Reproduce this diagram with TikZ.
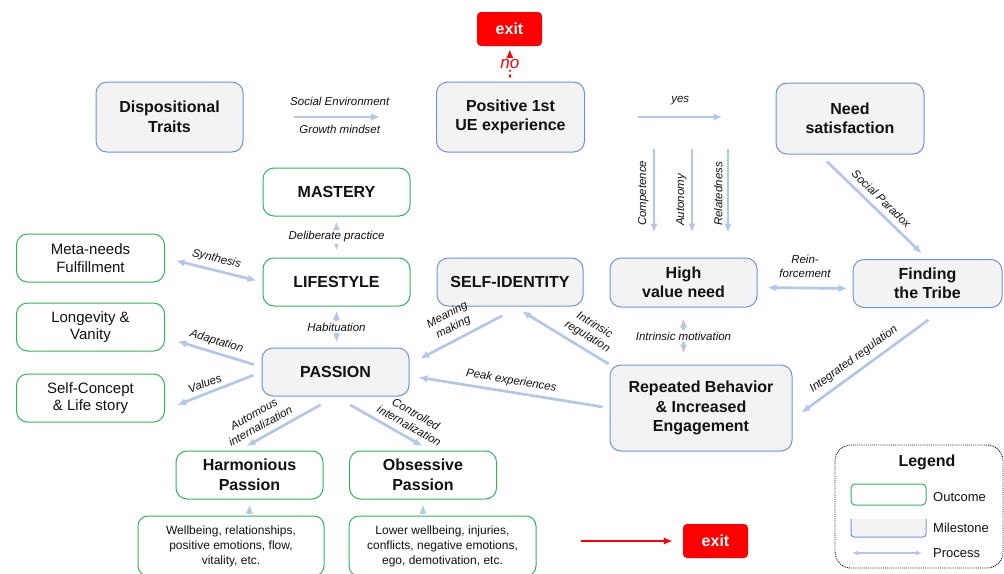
\documentclass[tikz,border=0pt]{standalone}
\usepackage{fontspec}
\setmainfont{Liberation Sans}
\usetikzlibrary{arrows.meta}

\begin{document}
\begin{tikzpicture}[x=1pt,y=-1pt,
  >={Latex[length=9pt,width=7.5pt]},
  box/.style={rounded corners=11pt,line width=1pt,align=center,inner sep=2pt,text=ink,
    font=\fontsize{16}{19.5}\selectfont\bfseries},
  milestone/.style={box,draw=msline,fill=msfill},
  outcome/.style={box,draw=ocline,fill=white},
  tallbox/.style={minimum width=148pt,minimum height=70pt},
  rowbox/.style={minimum width=148pt,minimum height=48pt},
  side/.style={font=\fontsize{15}{17.5}\selectfont},
  note/.style={font=\fontsize{12}{15}\selectfont,rounded corners=10pt},
  exitbox/.style={fill=exitred,rounded corners=4pt,text=white,minimum width=65pt,
    minimum height=34pt,font=\fontsize{16}{19}\selectfont\bfseries},
  proc/.style={draw=procline,line width=2.7pt,->},
  lbl/.style={font=\fontsize{11.5}{13.5}\selectfont\itshape,text=ink,inner sep=1.5pt,align=center},
  exitline/.style={draw=exitred,line width=2pt,->},
  keytext/.style={anchor=west,inner sep=0pt,text=ink,font=\fontsize{13}{15}\selectfont}
]
\definecolor{ink}{HTML}{111111}
\definecolor{msfill}{HTML}{F3F3F3}
\definecolor{msline}{HTML}{6D93DB}
\definecolor{ocline}{HTML}{33B35E}
\definecolor{procline}{HTML}{B4C7E7}
\definecolor{exitred}{HTML}{FF0000}
\useasboundingbox (0,0) rectangle (1004,573);

% top row
\node[milestone,tallbox,minimum width=147pt] (disp) at (169.5,117) {Dispositional\\Traits};
\node[milestone,tallbox] (first) at (510.5,117) {Positive 1st\\UE experience};
\node[milestone,tallbox,minimum height=71pt] (need) at (850,118.5) {Need\\satisfaction};
\node[exitbox] (quit) at (509.5,29) {exit};

% outcomes on the left
\node[outcome,rowbox,side] (meta) at (90.5,258) {Meta-needs\\Fulfillment};
\node[outcome,rowbox,side] (vanity) at (90.5,327) {Longevity \&\\Vanity};
\node[outcome,rowbox,side] (story) at (90.5,398) {Self-Concept\\\& Life story};

% middle column
\node[outcome,rowbox,minimum width=147pt] (mastery) at (336.5,192) {MASTERY};
\node[outcome,rowbox,minimum width=147pt] (lifestyle) at (336.5,282) {LIFESTYLE};
\node[milestone,rowbox,minimum width=147pt] (passion) at (335.5,372) {PASSION};
\node[milestone,rowbox,minimum width=146pt] (identity) at (510,282) {SELF-IDENTITY};

% right side
\node[milestone,rowbox,minimum width=147pt,minimum height=49pt] (highneed) at (683.5,282.5) {High\\value need};
\node[milestone,rowbox,minimum width=149pt] (tribe) at (927.5,283.5) {Finding\\the Tribe};
\node[milestone,minimum width=182pt,minimum height=86pt] (engage) at (701,408) {Repeated Behavior\\\& Increased\\Engagement};

% the two kinds of passion
\node[outcome,minimum width=147pt,minimum height=48pt] (harmonious) at (249.5,475) {Harmonious\\Passion};
\node[outcome,minimum width=147pt,minimum height=48pt] (obsessive) at (423,475) {Obsessive\\Passion};
\node[outcome,note,minimum width=186pt,minimum height=60pt] (goodout) at (231,546) {Wellbeing, relationships,\\positive emotions, flow,\\vitality, etc.};
\node[outcome,note,minimum width=187pt,minimum height=60pt] (badout) at (442.5,546) {Lower wellbeing, injuries,\\conflicts, negative emotions,\\ego, demotivation, etc.};

\node[exitbox] (quitb) at (715.5,541) {exit};
\coordinate (drop) at (581,541);

% processes
\draw[proc,shorten <=50pt,shorten >=56pt] (disp) -- (first)
  node[lbl,midway,above=9pt]{Social Environment}
  node[lbl,midway,below=5pt]{Growth mindset};
\draw[exitline,dashed,line width=1.8pt,shorten <=4pt,shorten >=3pt] (first) -- (quit)
  node[lbl,midway,fill=white,text=exitred,inner sep=1pt,font=\fontsize{17}{20}\selectfont\itshape]{no};
\draw[proc,shorten <=53pt,shorten >=53pt] (first) -- (first.east -| need.west) node[lbl,midway,above=9pt]{yes};

\coordinate (cmp) at (654,149);
\coordinate (aut) at (692,149);
\coordinate (rel) at (728,149);
\draw[proc,shorten >=25pt] (cmp) -- (cmp |- highneed.north)
  node[lbl,pos=0.76,rotate=90,anchor=south west,outer sep=4pt]{Competence};
\draw[proc,shorten >=25pt] (aut) -- (aut |- highneed.north)
  node[lbl,pos=0.76,rotate=90,anchor=south west,outer sep=4pt]{Autonomy};
\draw[proc,shorten >=25pt] (rel) -- (rel |- highneed.north)
  node[lbl,pos=0.76,rotate=90,anchor=south west,outer sep=4pt]{Relatedness};

\draw[proc,shorten <=10pt,shorten >=8pt] (need.-130) -- (tribe.north)
  node[lbl,midway,sloped,above=4pt]{Social Paradox};
\draw[proc,<->,shorten <=10pt,shorten >=5pt] ([yshift=-5pt]highneed.east) -- ([yshift=-5pt]tribe.west)
  node[lbl,midway,above=8pt]{Rein-\\forcement};
\draw[proc,<->,shorten <=11pt,shorten >=11pt] (highneed.south) -- (highneed.south |- engage.north)
  node[lbl,midway,fill=white]{Intrinsic motivation};
\draw[proc,shorten <=20pt,shorten >=11pt] (tribe.-55) -- (engage.-7)
  node[lbl,pos=0.55,sloped,above=4pt]{Integrated regulation};
\draw[proc,shorten <=1pt,shorten >=9pt] (engage.north west) -- (identity.-80)
  node[lbl,pos=0.3,sloped,above=4pt]{Intrinsic\\regulation};
\draw[proc,shorten <=20pt,shorten >=12pt] (identity.-68) -- (passion.6)
  node[lbl,pos=0.55,sloped,above=4pt]{Meaning\\making};
\draw[proc,shorten <=7pt,shorten >=9pt] (engage.west) -- (passion.-3)
  node[lbl,midway,sloped,above=3pt]{Peak experiences};

\draw[proc,<->,shorten <=5pt,shorten >=7pt] (mastery.south) -- (mastery.south |- lifestyle.north)
  node[lbl,midway,fill=white]{Deliberate practice};
\draw[proc,<->,shorten <=4pt,shorten >=5pt] (lifestyle.south) -- (lifestyle.south |- passion.north)
  node[lbl,midway,fill=white]{Habituation};

\draw[proc,<->,shorten <=11pt,shorten >=6pt] (meta.east) -- (lifestyle.west)
  node[lbl,midway,sloped,above=3pt]{Synthesis};
\draw[proc,shorten <=8pt,shorten >=13pt] (passion.176) -- (vanity.-8)
  node[lbl,midway,sloped,above=3pt]{Adaptation};
\draw[proc,shorten <=9pt,shorten >=13pt] (passion.west) -- (story.-9)
  node[lbl,pos=0.55,sloped,above=3pt]{Values};

\draw[proc,shorten <=17pt,shorten >=9pt] (passion.south) -- (harmonious.114)
  node[lbl,pos=0.72,sloped,above=4pt]{Automous\\internalization};
\draw[proc,shorten <=17pt,shorten >=9pt] (passion.south) -- (obsessive.73)
  node[lbl,pos=0.72,sloped,above=4pt]{Controlled\\internalization};
\draw[proc,<-,shorten <=5pt,shorten >=3pt] (harmonious.south) -- (harmonious.south |- goodout.north);
\draw[proc,<-,shorten <=5pt,shorten >=3pt] (obsessive.south) -- (obsessive.south |- badout.north);

\draw[exitline,shorten >=10pt] (drop) -- (quitb);

% legend
\draw[ink,densely dotted,line width=0.9pt,rounded corners=16pt] (835,445) rectangle (1003,568);
\node[text=ink,font=\fontsize{16}{19}\selectfont\bfseries] (legend) at (927,462) {Legend};
\node[outcome,minimum width=75pt,minimum height=21pt,rounded corners=4pt] (keyout) at (888.5,494.5) {};
\fill[msfill] (851,519) rectangle (926,537);
\draw[msline,line width=1pt,rounded corners=3pt] (851,519) -- (851,537) -- (926,537) -- (926,519);
\coordinate (keya) at (852,553);
\coordinate (keyb) at (922,553);
\draw[proc,<->,line width=1.6pt,>={Latex[length=6pt,width=5pt]}] (keya) -- (keyb);
\node[keytext] at (933,497) {Outcome};
\node[keytext] at (933,528) {Milestone};
\node[keytext] at (933,553) {Process};
\end{tikzpicture}
\end{document}
